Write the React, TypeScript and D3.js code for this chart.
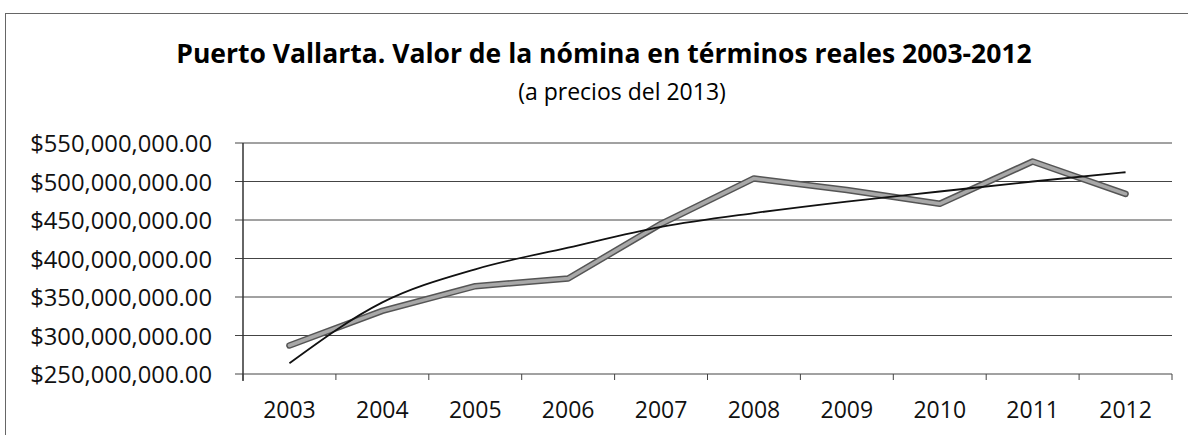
import * as d3 from 'd3';

// Años (categorías del eje X)
const years = ['2003', '2004', '2005', '2006', '2007', '2008', '2009', '2010', '2011', '2012'];

// Valor de la nómina en términos reales (pesos de 2013)
const nomina = [287000000, 332000000, 364000000, 374000000, 445000000, 504000000, 489000000, 471000000, 526000000, 484000000];

const tendencia = [264000000, 343000000, 386000000, 414000000, 441000000, 459000000, 474000000, 487000000, 500000000, 512000000];

const yTicks = [250000000, 300000000, 350000000, 400000000, 450000000, 500000000, 550000000];

const title = 'Puerto Vallarta. Valor de la nómina en términos reales 2003-2012';
const subtitle = '(a precios del 2013)';

const width = 1188;
const height = 435;
const margin = { top: 143, right: 16, bottom: 61, left: 243 };
const font = '"Open Sans", "Noto Sans", sans-serif';

export default function App() {
    const innerBottom = height - margin.bottom;
    const innerRight = width - margin.right;

    const x = d3.scaleBand<string>()
        .domain(years)
        .range([margin.left, innerRight]);

    const y = d3.scaleLinear()
        .domain([250000000, 550000000])
        .range([innerBottom, margin.top]);

    const fmt = d3.format('$,.2f');

    const cx = (i: number) => (x(years[i]) as number) + x.bandwidth() / 2;

    const line = d3.line<number>()
        .x((_, i) => cx(i))
        .y(d => y(d));

    const trend = d3.line<number>()
        .x((_, i) => cx(i))
        .y(d => y(d))
        .curve(d3.curveMonotoneX);

    const boundaries = years.map(yr => x(yr) as number).concat([innerRight]);

    return (
        <svg
            width={width}
            height={height}
            style={{ position: 'absolute', left: 0, top: 0, background: '#fff' }}
            fontFamily={font}
        >
            {/* marco del gráfico */}
            <rect x={5.5} y={13.5} width={1200} height={440} fill="none" stroke="#666" strokeWidth={1} />

            <text x={604} y={63} textAnchor="middle" fontSize={26.5} fontWeight="bold" fill="#000">
                {title}
            </text>
            <text x={622} y={100} textAnchor="middle" fontSize={23} fill="#000">
                {subtitle}
            </text>

            {/* rejilla y etiquetas Y */}
            {yTicks.map(t => (
                <g key={t}>
                    <line x1={margin.left - 8} x2={innerRight} y1={y(t)} y2={y(t)} stroke="#444" strokeWidth={1} />
                    <text x={212} y={y(t) + 9} textAnchor="end" fontSize={23.8} fill="#111">
                        {fmt(t)}
                    </text>
                </g>
            ))}

            {/* eje Y */}
            <line x1={margin.left} x2={margin.left} y1={margin.top} y2={innerBottom + 7} stroke="#333" strokeWidth={1.5} />

            {/* marcas eje X */}
            {boundaries.map((b, i) => (
                <line key={i} x1={b} x2={b} y1={innerBottom} y2={innerBottom + 6} stroke="#444" strokeWidth={1} />
            ))}

            {years.map((yr, i) => (
                <text key={yr} x={cx(i)} y={418} textAnchor="middle" fontSize={23} fill="#111">
                    {yr}
                </text>
            ))}

            {/* serie de nómina: línea gruesa gris */}
            <path d={line(nomina) ?? ''} fill="none" stroke="#555" strokeWidth={6.5} strokeLinejoin="round" strokeLinecap="round" />
            <path d={line(nomina) ?? ''} fill="none" stroke="#a8a8a8" strokeWidth={3.5} strokeLinejoin="round" strokeLinecap="round" />

            {/* tendencia */}
            <path d={trend(tendencia) ?? ''} fill="none" stroke="#111" strokeWidth={1.8} />
        </svg>
    );
}
